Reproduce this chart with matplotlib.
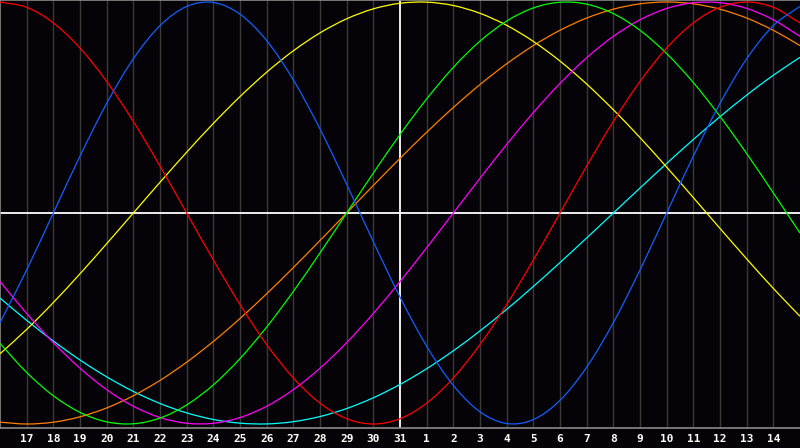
import matplotlib
matplotlib.use("Agg")
import matplotlib.pyplot as plt
import matplotlib.transforms as mtransforms
from matplotlib.path import Path
from matplotlib.patches import PathPatch

# Day labels (index 0 .. 30)
days = [16, 17, 18, 19, 20, 21, 22, 23, 24, 25, 26, 27, 28, 29, 30, 31,
        1, 2, 3, 4, 5, 6, 7, 8, 9, 10, 11, 12, 13, 14, 15]
today_index = 15

# Cycle values per day
physical = [-0.5196, -0.2698, 0.0, 0.2698, 0.5196, 0.7308, 0.8879, 0.9791, 0.9977, 0.9423,
            0.8170, 0.6311, 0.3984, 0.1362, -0.1362, -0.3984, -0.6311, -0.8170, -0.9423, -0.9977,
            -0.9791, -0.8879, -0.7308, -0.5196, -0.2698, 0.0, 0.2698, 0.5196, 0.7308, 0.8879, 0.9791]
emotional = [1.0, 0.9749, 0.9010, 0.7818, 0.6235, 0.4339, 0.2225, 0.0, -0.2225, -0.4339,
             -0.6235, -0.7818, -0.9010, -0.9749, -1.0, -0.9749, -0.9010, -0.7818, -0.6235, -0.4339,
             -0.2225, 0.0, 0.2225, 0.4339, 0.6235, 0.7818, 0.9010, 0.9749, 1.0, 0.9749, 0.9010]
intellectual = [-0.6182, -0.7557, -0.8660, -0.9450, -0.9898, -0.9989, -0.9718, -0.9096, -0.8146, -0.6901,
                -0.5406, -0.3717, -0.1893, 0.0, 0.1893, 0.3717, 0.5406, 0.6901, 0.8146, 0.9096,
                0.9718, 0.9989, 0.9898, 0.9450, 0.8660, 0.7557, 0.6182, 0.4582, 0.2817, 0.0951, -0.0951]
intuitive = [-0.3247, -0.4760, -0.6142, -0.7357, -0.8372, -0.9158, -0.9694, -0.9966, -0.9966, -0.9694,
             -0.9158, -0.8372, -0.7357, -0.6142, -0.4760, -0.3247, -0.1646, 0.0, 0.1646, 0.3247,
             0.4760, 0.6142, 0.7357, 0.8372, 0.9158, 0.9694, 0.9966, 0.9966, 0.9694, 0.9158, 0.8372]
aesthetic = [-0.6673, -0.5517, -0.4244, -0.2881, -0.1456, 0.0, 0.1456, 0.2881, 0.4244, 0.5517,
             0.6673, 0.7687, 0.8536, 0.9204, 0.9675, 0.9940, 0.9993, 0.9834, 0.9464, 0.8894,
             0.8133, 0.7199, 0.6112, 0.4894, 0.3573, 0.2174, 0.0730, -0.0730, -0.2174, -0.3573, -0.4894]
awareness = [-0.9914, -1.0, -0.9914, -0.9659, -0.9239, -0.8660, -0.7934, -0.7071, -0.6088, -0.5,
             -0.3827, -0.2588, -0.1305, 0.0, 0.1305, 0.2588, 0.3827, 0.5, 0.6088, 0.7071,
             0.7934, 0.8660, 0.9239, 0.9659, 0.9914, 1.0, 0.9914, 0.9659, 0.9239, 0.8660, 0.7934]
spiritual = [-0.4031, -0.5085, -0.6068, -0.6966, -0.7765, -0.8456, -0.9028, -0.9473, -0.9786, -0.9960,
             -0.9996, -0.9890, -0.9646, -0.9267, -0.8757, -0.8125, -0.7379, -0.6529, -0.5586, -0.4566,
             -0.3482, -0.2349, -0.1183, 0.0, 0.1183, 0.2349, 0.3482, 0.4566, 0.5586, 0.6529, 0.7379]

series = [
    (spiritual, "#00ffff"),
    (awareness, "#ff8000"),
    (aesthetic, "#ffff00"),
    (intuitive, "#ff00ff"),
    (intellectual, "#00ff00"),
    (emotional, "#ff0000"),
    (physical, "#1060ff"),
]


def smooth_path(xs, ys):
    """Catmull-Rom style smooth curve through the data points, as cubic Beziers."""
    n = len(xs)
    px = [2 * xs[0] - xs[1]] + list(xs) + [2 * xs[-1] - xs[-2]]
    py = [2 * ys[0] - ys[1]] + list(ys) + [2 * ys[-1] - ys[-2]]
    verts = [(xs[0], ys[0])]
    codes = [Path.MOVETO]
    for i in range(1, n):
        x0, y0 = px[i - 1], py[i - 1]
        x1, y1 = px[i], py[i]
        x2, y2 = px[i + 1], py[i + 1]
        x3, y3 = px[i + 2], py[i + 2]
        c1 = (x1 + (x2 - x0) / 6, y1 + (y2 - y0) / 6)
        c2 = (x2 - (x3 - x1) / 6, y2 - (y3 - y1) / 6)
        verts += [c1, c2, (x2, y2)]
        codes += [Path.CURVE4] * 3
    return Path(verts, codes)


BG = "#050307"
W, H = 800, 448
fig = plt.figure(figsize=(W / 100, H / 100), dpi=100, facecolor=BG)
ax = fig.add_axes([0, 20 / H, 1, 428 / H], facecolor=BG)

x = list(range(len(days)))
ax.set_xlim(0, len(days) - 1)
ax.set_ylim(-215 / 211, 213 / 211)

# vertical grid lines
for i in range(1, len(days) - 1):
    if i != today_index:
        ax.axvline(i, color="#3a3a3a", lw=1.0, zorder=1)

# center line and today line
ax.axhline(0, color="#ffffff", lw=1.3, zorder=2)
ax.axvline(today_index, color="#ffffff", lw=1.3, zorder=2)

for vals, col in series:
    patch = PathPatch(smooth_path(x, vals), facecolor="none", edgecolor=col,
                      lw=0.9, zorder=3)
    ax.add_patch(patch)

ax.set_xticks([])
ax.set_yticks([])
ax.spines["right"].set_visible(False)
for s in ["left", "top", "bottom"]:
    ax.spines[s].set_color("#8a8a8a")
    ax.spines[s].set_linewidth(1.2)

trans = mtransforms.blended_transform_factory(ax.transData, fig.transFigure)
for i in range(1, len(days) - 1):
    ax.text(i, 1 - 439 / H, str(days[i]), transform=trans, ha="center", va="center",
            color="white", fontsize=8, fontweight="bold", family="DejaVu Sans Mono",
            clip_on=False)

fig.savefig("out.png", dpi=100, facecolor=BG)
